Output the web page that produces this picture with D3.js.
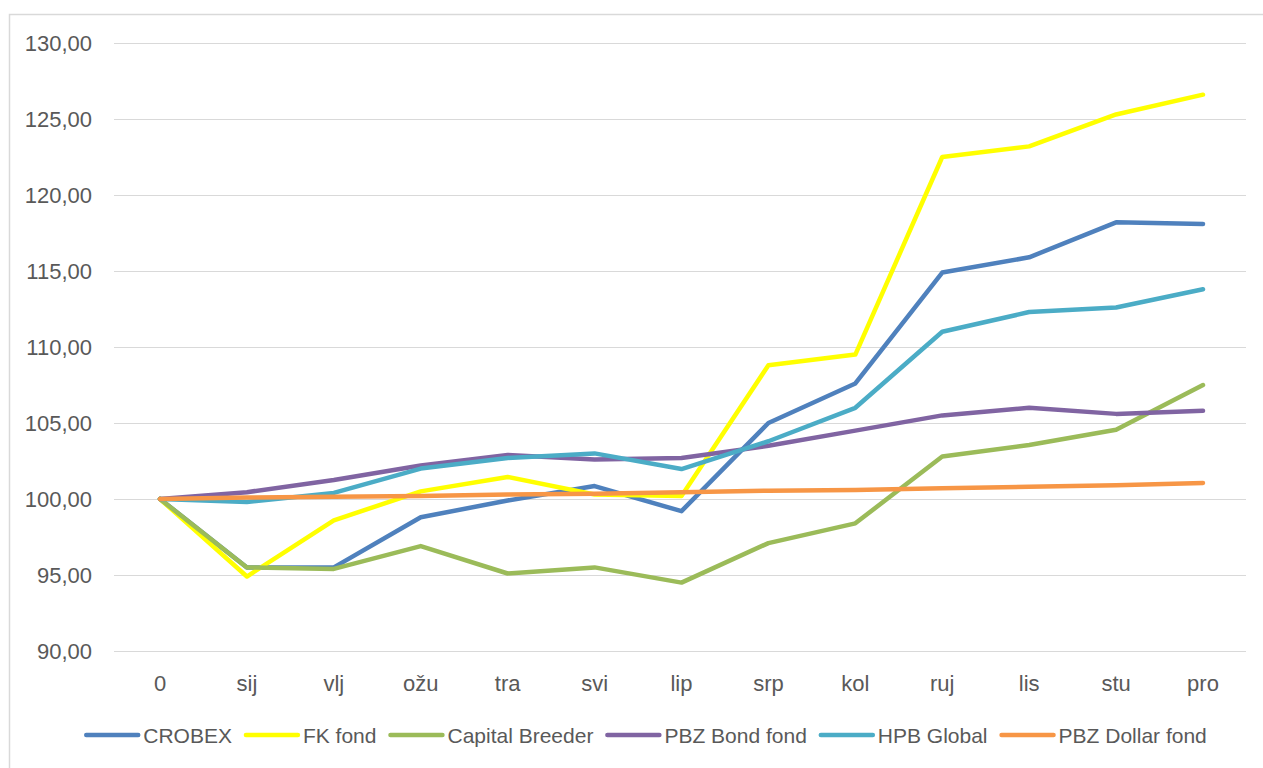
<!DOCTYPE html>
<html><head><meta charset="utf-8">
<script src="https://cdn.jsdelivr.net/npm/d3@7"></script>
<style>body{margin:0;background:#fff}svg{display:block}text{font-family:"Liberation Sans",Arial,sans-serif;fill:#595959}</style>
</head><body><svg id="c" width="1263" height="768"></svg>
<script>
const categories = ["0","sij","vlj","ožu","tra","svi","lip","srp","kol","ruj","lis","stu","pro"];
const seriesNames = ["CROBEX","FK fond","Capital Breeder","PBZ Bond fond","HPB Global","PBZ Dollar fond"];
const seriesColors = ["#4F81BD","#FFFF00","#9BBB59","#8064A2","#4BACC6","#F79646"];
const crobex = [100,95.5,95.5,98.8,99.9,100.85,99.2,105.0,107.6,114.9,115.9,118.2,118.1];
const fkFond = [100,94.9,98.6,100.5,101.45,100.3,100.2,108.8,109.5,122.5,123.2,125.3,126.6];
const capitalBreeder = [100,95.5,95.4,96.9,95.1,95.5,94.5,97.1,98.4,102.8,103.55,104.55,107.5];
const pbzBond = [100,100.45,101.25,102.2,102.9,102.6,102.7,103.5,104.5,105.5,106.0,105.6,105.8];
const hpbGlobal = [100,99.8,100.4,102.0,102.7,103.0,101.97,103.8,106.0,111.0,112.3,112.6,113.8];
const pbzDollar = [100,100.1,100.15,100.2,100.3,100.35,100.45,100.55,100.6,100.7,100.8,100.9,101.05];
const yTicks = [90,95,100,105,110,115,120,125,130];

const seriesValues = [crobex,fkFond,capitalBreeder,pbzBond,hpbGlobal,pbzDollar];
const svg = d3.select("#c");
// chart border
svg.append("path").attr("d","M9.5,768V14.5H1263").attr("fill","none").attr("stroke","#d9d9d9").attr("stroke-width",1.5);

const x = d3.scalePoint().domain(categories).range([160,1203]);
const y = d3.scaleLinear().domain([90,130]).range([651,43]);
const fmt = v => v.toFixed(2).replace(".",",");

// gridlines
svg.append("g").selectAll("line").data(yTicks).join("line")
  .attr("x1",114).attr("x2",1246).attr("y1",d=>Math.round(y(d))+0.5).attr("y2",d=>Math.round(y(d))+0.5)
  .attr("stroke","#d9d9d9").attr("stroke-width",1);
// y labels
svg.append("g").selectAll("text").data(yTicks).join("text")
  .attr("x",92).attr("y",d=>y(d)).attr("dy","0.36em").attr("text-anchor","end")
  .style("font-size","22px").text(fmt);
// x labels
svg.append("g").selectAll("text").data(categories).join("text")
  .attr("x",d=>x(d)).attr("y",683).attr("dy","0.36em").attr("text-anchor","middle")
  .style("font-size","22px").text(d=>d);

const line = d3.line().x((d,i)=>x(categories[i])).y(d=>y(d));
svg.append("g").selectAll("path").data(seriesValues).join("path")
  .attr("d",line).attr("fill","none").attr("stroke",(d,i)=>seriesColors[i])
  .attr("stroke-width",4.5).attr("stroke-linejoin","round").attr("stroke-linecap","round");

// legend (measured layout, centred)
const lg = svg.append("g");
const items = lg.selectAll("g").data(seriesNames).join("g");
items.append("line").attr("x1",0).attr("x2",52).attr("stroke",(d,i)=>seriesColors[i])
  .attr("stroke-width",4.5).attr("stroke-linecap","round");
items.append("text").attr("x",57).attr("dy","0.36em").style("font-size","21px").text(d=>d);
let cx = 0;
items.each(function(){
  const w = d3.select(this).select("text").node().getComputedTextLength();
  d3.select(this).attr("data-x",cx);
  cx += 57 + w + 14;
});
const total = cx - 14;
const start = 646.5 - total/2;
items.attr("transform",function(){return `translate(${start + (+this.getAttribute("data-x"))},735)`;});
</script></body></html>
